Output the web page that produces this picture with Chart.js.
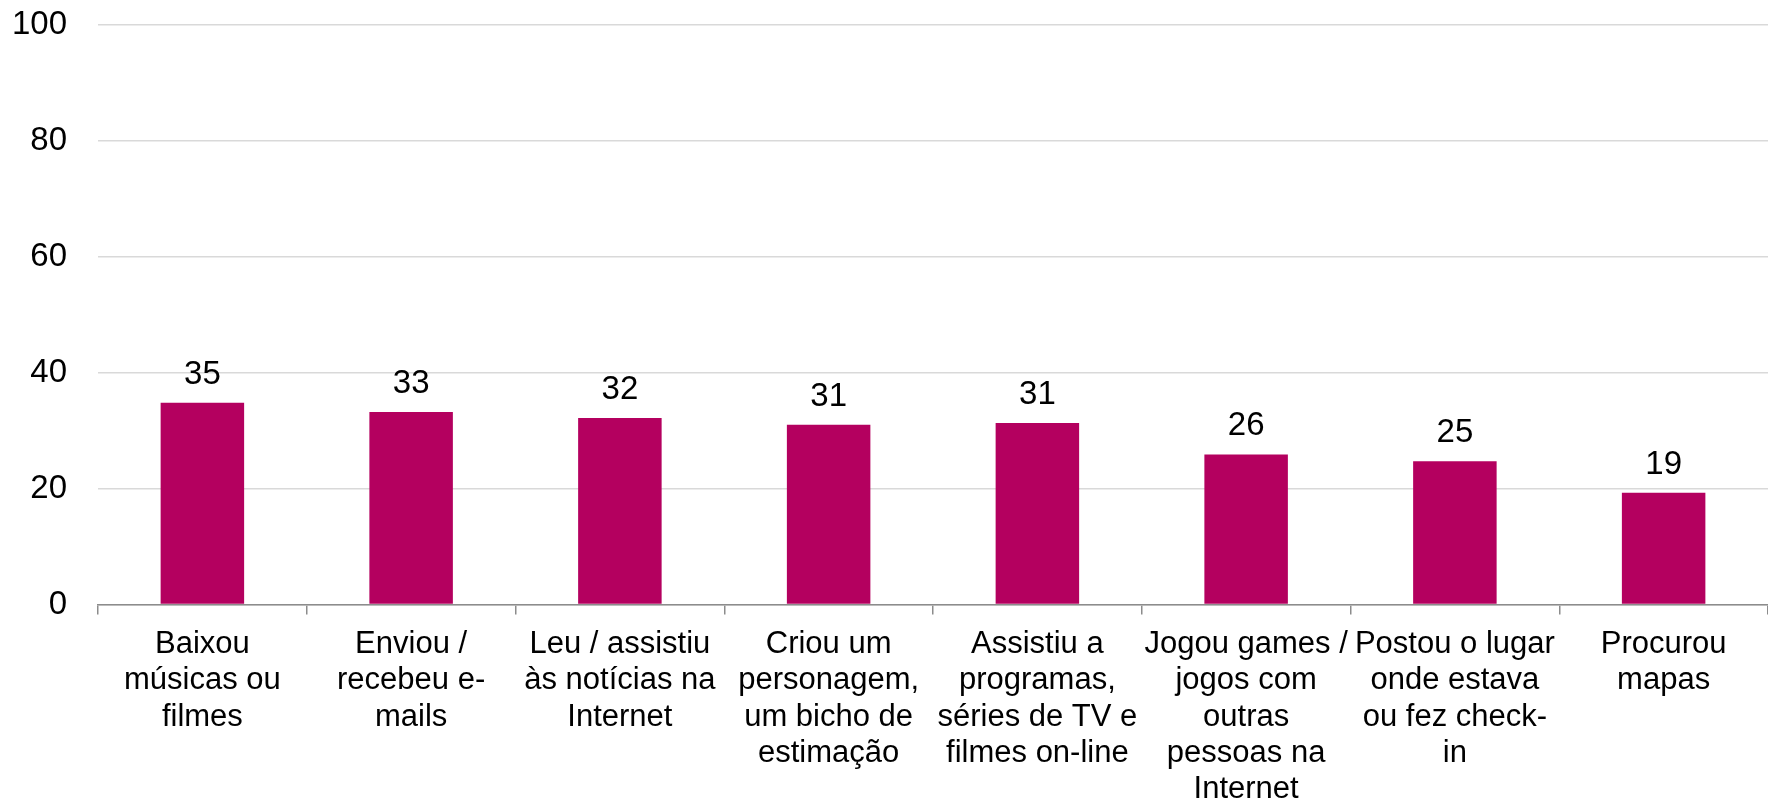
<!DOCTYPE html>
<html>
<head>
<meta charset="utf-8">
<script src="https://cdn.jsdelivr.net/npm/chart.js@4"></script>
<style>
  html, body { margin: 0; padding: 0; background: #fff; }
  #chart { display: block; }
</style>
</head>
<body>
<canvas id="chart" width="1768" height="802"></canvas>
<script>
const categories = [
  ['Baixou', 'músicas ou', 'filmes'],
  ['Enviou /', 'recebeu e-', 'mails'],
  ['Leu / assistiu', 'às notícias na', 'Internet'],
  ['Criou um', 'personagem,', 'um bicho de', 'estimação'],
  ['Assistiu a', 'programas,', 'séries de TV e', 'filmes on-line'],
  ['Jogou games /', 'jogos com', 'outras', 'pessoas na', 'Internet'],
  ['Postou o lugar', 'onde estava', 'ou fez check-', 'in'],
  ['Procurou', 'mapas']
];
const values = [34.8, 33.2, 32.2, 31.0, 31.3, 25.9, 24.7, 19.3];
const yTicks = [0, 20, 40, 60, 80, 100];

const FONT = '"Liberation Sans", Arial, sans-serif';

// value labels above bars
const barLabels = {
  id: 'barLabels',
  afterDatasetsDraw(chart) {
    const ctx = chart.ctx;
    const meta = chart.getDatasetMeta(0);
    ctx.save();
    ctx.font = '33px ' + FONT;
    ctx.fillStyle = '#000';
    ctx.textAlign = 'center';
    ctx.textBaseline = 'alphabetic';
    meta.data.forEach((bar, i) => {
      ctx.fillText(Math.round(values[i]), bar.x, bar.y - 19);
    });
    ctx.restore();
  }
};

new Chart(document.getElementById('chart'), {
  type: 'bar',
  data: {
    labels: categories,
    datasets: [{
      data: values,
      backgroundColor: '#b4005f',
      borderWidth: 0,
      barPercentage: 0.4,
      categoryPercentage: 1
    }]
  },
  options: {
    responsive: false,
    devicePixelRatio: 1,
    animation: false,
    layout: { padding: { top: 25, right: 0, left: 0, bottom: 0 } },
    plugins: {
      legend: { display: false },
      tooltip: { enabled: false }
    },
    scales: {
      x: {
        offset: true,
        afterFit: (s) => {
          s.height = 197.5;
          s.paddingLeft = 0;
          s.paddingRight = 0;
        },
        grid: {
          offset: true,
          drawOnChartArea: false,
          drawTicks: true,
          tickLength: 10,
          color: '#8c8c8c',
          lineWidth: 1.5
        },
        border: { color: '#8c8c8c', width: 1.5 },
        ticks: {
          autoSkip: false,
          maxRotation: 0,
          minRotation: 0,
          padding: 12,
          color: '#000',
          font: { family: FONT, size: 31, lineHeight: 1.17 }
        }
      },
      y: {
        min: 0,
        max: 100,
        afterFit: (s) => {
          s.width = 98;
          s.paddingTop = 0;
          s.paddingBottom = 0;
        },
        afterBuildTicks: (s) => { s.ticks = yTicks.map(v => ({ value: v })); },
        grid: {
          color: '#d9d9d9',
          lineWidth: 1.5,
          drawTicks: false
        },
        border: { display: false },
        ticks: {
          padding: 31,
          color: '#000',
          font: { family: FONT, size: 33 }
        }
      }
    }
  },
  plugins: [barLabels]
});
</script>
</body>
</html>
